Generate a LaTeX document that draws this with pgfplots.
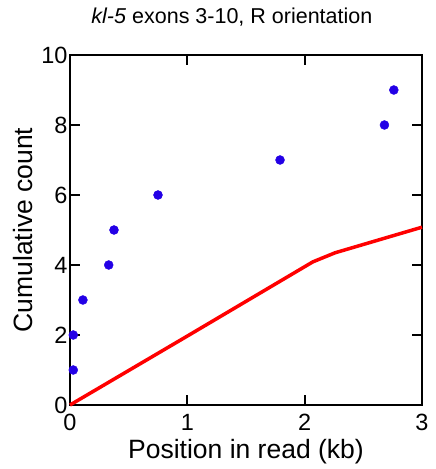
\documentclass[border=0pt]{standalone}
\usepackage{pgfplots}
\pgfplotsset{compat=1.18}
\usepackage{fontspec}
\setmainfont{Liberation Sans}
\definecolor{dotblue}{RGB}{35,0,230}
\begin{document}
\begin{tikzpicture}
\useasboundingbox (-70pt,-64pt) rectangle (366pt,405pt);
\begin{axis}[
  scale only axis,
  width=352pt, height=350pt,
  xmin=0, xmax=3, ymin=0, ymax=10,
  xtick={0,1,2,3}, ytick={0,2,4,6,8,10},
  tick align=inside,
  major tick length=10pt,
  axis line style={line width=2.2pt},
  every tick/.style={black, line width=2pt},
  /pgf/number format/assume math mode=true,
  tick label style={font=\fontsize{23.5}{25}\selectfont},
  xticklabel style={yshift=-6pt},
  yticklabel style={xshift=1pt},
  xlabel={Position in read (kb)},
  ylabel={Cumulative count},
  label style={font=\fontsize{26.5}{29}\selectfont},
  xlabel style={at={(axis description cs:0.5,0)}, anchor=north, yshift=-31pt},
  ylabel style={at={(axis description cs:0,0.5)}, anchor=south, yshift=34pt},
  title={\textit{kl-5} exons 3-10, R orientation},
  title style={font=\fontsize{21.5}{23}\selectfont, at={(axis description cs:0.46,1)}, anchor=south, yshift=19pt},
  clip=false,
]
\addplot[red, line width=3.5pt, line join=round] coordinates {
  (0,0) (1,1.97) (2.07,4.09) (2.26,4.35) (3,5.08)
};
\addplot[only marks, mark=*, mark size=4.5pt, dotblue, mark options={draw=dotblue, fill=dotblue}] coordinates {
  (0.028,1) (0.028,2) (0.11,3) (0.33,4) (0.375,5) (0.75,6) (1.79,7) (2.68,8) (2.76,9)
};
\end{axis}
\end{tikzpicture}
\end{document}
